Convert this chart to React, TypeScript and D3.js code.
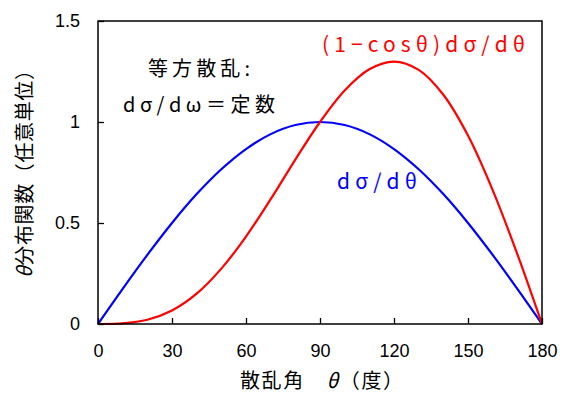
import * as React from "react";
import * as d3 from "d3";

// scattering angle in degrees
const angles = [0, 10, 20, 30, 40, 50, 60, 70, 80, 90, 100, 110, 120, 130, 140, 150, 160, 170, 180];
// dσ/dθ (isotropic)
const blueValues = [0, 0.174, 0.342, 0.5, 0.643, 0.766, 0.866, 0.94, 0.985, 1.0, 0.985, 0.94, 0.866, 0.766, 0.643, 0.5, 0.342, 0.174, 0];
// (1-cosθ) dσ/dθ
const redValues = [0, 0.003, 0.021, 0.067, 0.15, 0.274, 0.433, 0.618, 0.814, 1.0, 1.156, 1.261, 1.299, 1.258, 1.135, 0.933, 0.663, 0.346, 0];
const xTicks = [0, 30, 60, 90, 120, 150, 180];
const yTicks = [0, 0.5, 1, 1.5];

const W = 568;
const H = 398;
const margin = { top: 21, right: 26, bottom: 74, left: 98 };
const jp = "'Noto Sans CJK JP', 'Noto Sans', sans-serif";
const num = "'Liberation Sans', Arial, sans-serif";

export default function App() {
  const ref = React.useRef<SVGSVGElement>(null);

  React.useEffect(() => {
    const svg = d3.select(ref.current);
    svg.selectAll("*").remove();
    const width = W - margin.left - margin.right;
    const height = H - margin.top - margin.bottom;

    const x = d3.scaleLinear().domain([0, 180]).range([margin.left, margin.left + width]);
    const y = d3.scaleLinear().domain([0, 1.5]).range([margin.top + height, margin.top]);

    const line = d3
      .line<number>()
      .x((_, i) => x(angles[i]))
      .y((d) => y(d))
      .curve(d3.curveCatmullRom.alpha(0.5));

    svg
      .append("path")
      .attr("d", line(blueValues))
      .attr("fill", "none")
      .attr("stroke", "#0000ff")
      .attr("stroke-width", 2.2);

    svg
      .append("path")
      .attr("d", line(redValues))
      .attr("fill", "none")
      .attr("stroke", "#ff0000")
      .attr("stroke-width", 2.2);

    // frame
    svg
      .append("rect")
      .attr("x", margin.left)
      .attr("y", margin.top)
      .attr("width", width)
      .attr("height", height)
      .attr("fill", "none")
      .attr("stroke", "#000")
      .attr("stroke-width", 1.5);

    // x axis, ticks inward
    const xAxis = d3.axisBottom(x).tickValues(xTicks).tickSizeInner(-6).tickSizeOuter(0).tickPadding(20);
    const gx = svg.append("g").attr("transform", `translate(0,${margin.top + height})`).call(xAxis);
    gx.select(".domain").remove();
    gx.selectAll("line").attr("stroke-width", 1.3);
    gx.selectAll("text").attr("font-family", num).attr("font-size", 18).attr("fill", "#000");

    const yAxis = d3.axisLeft(y).tickValues(yTicks).tickSizeInner(-6).tickSizeOuter(0).tickPadding(18)
      .tickFormat((d) => String(d));
    const gy = svg.append("g").attr("transform", `translate(${margin.left},0)`).call(yAxis);
    gy.select(".domain").remove();
    gy.selectAll("line").attr("stroke-width", 1.3);
    gy.selectAll("text").attr("font-family", num).attr("font-size", 18).attr("fill", "#000");

    const label = (
      txt: string,
      x0: number,
      x1: number,
      baseline: number,
      color = "#000",
      size = 20
    ) =>
      svg
        .append("text")
        .attr("x", x0)
        .attr("y", baseline)
        .attr("textLength", x1 - x0)
        .attr("lengthAdjust", "spacing")
        .attr("font-family", jp)
        .attr("font-size", size)
        .attr("fill", color)
        .text(txt);

    // axis titles (θ in italics)
    const xt = svg
      .append("text")
      .attr("x", 240)
      .attr("y", 388)
      .attr("textLength", 163)
      .attr("lengthAdjust", "spacing")
      .attr("font-family", jp)
      .attr("font-size", 20);
    xt.append("tspan").text("散乱角　");
    xt.append("tspan").attr("font-style", "italic").text("θ");
    xt.append("tspan").text("（度）");

    const yt = svg
      .append("text")
      .attr("transform", "translate(32,278) rotate(-90)")
      .attr("textLength", 218)
      .attr("lengthAdjust", "spacing")
      .attr("font-family", jp)
      .attr("font-size", 20);
    yt.append("tspan").attr("font-style", "italic").text("θ");
    yt.append("tspan").text("分布関数（任意単位）");

    // annotations
    label("等方散乱:", 148, 250, 76);
    label("dσ/dω＝定数", 123, 275, 112);
    label("(1−cosθ)dσ/dθ", 322, 525, 52, "#ff0000", 21);
    label("dσ/dθ", 337, 417, 189, "#0000ff", 21);
  }, []);

  return (
    <svg
      ref={ref}
      width={W}
      height={H}
      style={{ position: "absolute", left: 0, top: 0, background: "#fff" }}
    />
  );
}
